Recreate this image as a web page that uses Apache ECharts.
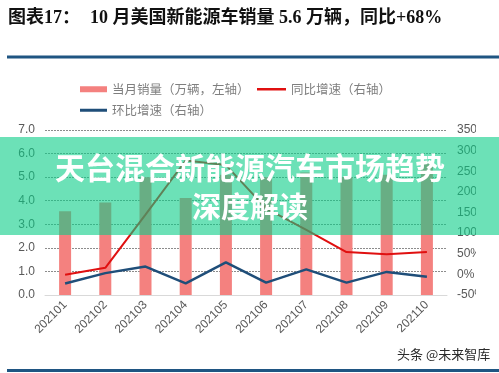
<!DOCTYPE html>
<html>
<head>
<meta charset="utf-8">
<script src="https://cdn.jsdelivr.net/npm/echarts@6/dist/echarts.min.js"></script>
<style>
html,body{margin:0;padding:0;background:#fff;}
#c{width:499px;height:373px;}
</style>
</head>
<body>
<div id="c"></div>
<script>
// ---- data ----
var categories = ['202101','202102','202103','202104','202105','202106','202107','202108','202109','202110'];
var monthlySales = [3.55, 3.92, 5.0, 4.12, 5.1, 5.0, 5.2, 5.0, 5.1, 5.6];   // 万辆, left axis
var yoyGrowth = [-1, 16, 145, 276, 265, 160, 108, 54, 49, 54];           // %, right axis
var momGrowth = [-22, 3, 19, -22, 29, -20, 12, -20, 6, -6];              // %, right axis
var leftTicks = {min: 0, max: 7, interval: 1};
var rightTicks = {min: -50, max: 350, interval: 50};
var seriesNames = ['当月销量（万辆，左轴）', '同比增速（右轴）', '环比增速（右轴）'];
var titleLead = '图表17：';
var titleMain = '10 月美国新能源车销量 5.6 万辆，同比+68%';
var bannerLine1 = '天台混合新能源汽车市场趋势';
var bannerLine2 = '深度解读';
var watermark = '头条 @未来智库';

var chart = echarts.init(document.getElementById('c'), null, {renderer: 'canvas'});
var sans = 'Liberation Sans, Arial, sans-serif';
var cjk = '"Noto Sans CJK SC", sans-serif';
var legendText = {color: '#7f7f7f', fontSize: 12.5, fontFamily: cjk};

chart.setOption({
  animation: false,
  backgroundColor: '#ffffff',
  grid: {left: 45, right: 52, top: 130, bottom: 78},
  legend: [
    {data: [seriesNames[0]], left: 80, top: 83, padding: 0, itemWidth: 27, itemHeight: 6, icon: 'rect', textStyle: legendText},
    {data: [seriesNames[1]], left: 257, top: 83, padding: 0, itemWidth: 29, itemHeight: 2.5, icon: 'rect', textStyle: legendText},
    {data: [seriesNames[2]], left: 80, top: 104, padding: 0, itemWidth: 27, itemHeight: 3, icon: 'rect', textStyle: legendText}
  ],
  xAxis: {
    type: 'category',
    data: categories,
    boundaryGap: true,
    axisLine: {lineStyle: {color: '#d9d9d9', width: 1}},
    axisTick: {show: false},
    axisLabel: {rotate: 45, margin: 8, color: '#595959', fontSize: 12, fontFamily: sans, interval: 0}
  },
  yAxis: [
    {
      type: 'value', min: leftTicks.min, max: leftTicks.max, interval: leftTicks.interval,
      axisLine: {show: false}, axisTick: {show: false},
      axisLabel: {margin: 10, color: '#595959', fontSize: 12, fontFamily: sans,
        formatter: function (v) { return v.toFixed(1); }},
      splitLine: {lineStyle: {color: '#8c8c8c', type: [2, 1], width: 1}}
    },
    {
      type: 'value', min: rightTicks.min, max: rightTicks.max, interval: rightTicks.interval,
      axisLine: {show: false}, axisTick: {show: false},
      axisLabel: {margin: 10, color: '#595959', fontSize: 12, fontFamily: sans,
        formatter: function (v) { return v + '%'; }},
      splitLine: {show: false}
    }
  ],
  series: [
    {name: seriesNames[0], type: 'bar', data: monthlySales, barWidth: 12,
      itemStyle: {color: '#f4817f'}},
    {name: seriesNames[1], type: 'line', yAxisIndex: 1, data: yoyGrowth, symbol: 'none',
      itemStyle: {color: '#e01010'}, lineStyle: {color: '#e01010', width: 2}},
    {name: seriesNames[2], type: 'line', yAxisIndex: 1, data: momGrowth, symbol: 'none',
      itemStyle: {color: '#1f4e79'}, lineStyle: {color: '#1f4e79', width: 2.5}}
  ],
  graphic: [
    {type: 'text', left: 8, top: 9, z: 30, style: {text: titleLead, fill: '#111', font: 'bold 18px "Liberation Serif", "Noto Sans CJK SC", serif'}},
    {type: 'text', left: 90, top: 9, z: 30, style: {text: titleMain, fill: '#111', font: 'bold 18px "Liberation Serif", "Noto Sans CJK SC", serif'}},
    {type: 'rect', shape: {x: 7, y: 55.5, width: 492, height: 3}, z: 30, style: {fill: '#1f5582'}},
    {type: 'rect', shape: {x: 7, y: 369, width: 492, height: 3}, z: 30, style: {fill: '#1f5582'}},
    {type: 'rect', shape: {x: 476, y: 115, width: 23, height: 195}, z: 10, style: {fill: '#ffffff'}},
    {type: 'rect', shape: {x: 0, y: 137, width: 499, height: 98}, z: 20, style: {fill: 'rgba(10,205,135,0.6)'}},
    {type: 'text', x: 250, y: 168, z: 21, style: {text: bannerLine1, fill: '#ffffff', align: 'center', verticalAlign: 'middle', font: 'bold 30px "Noto Sans CJK SC", sans-serif'}},
    {type: 'text', x: 250, y: 207, z: 21, style: {text: bannerLine2, fill: '#ffffff', align: 'center', verticalAlign: 'middle', font: 'bold 29px "Noto Sans CJK SC", sans-serif'}},
    {type: 'text', x: 397, y: 354, z: 30, style: {text: watermark, fill: '#2a2a2a', verticalAlign: 'middle', font: '13px "Noto Sans CJK SC", sans-serif'}}
  ]
});
</script>
</body>
</html>
